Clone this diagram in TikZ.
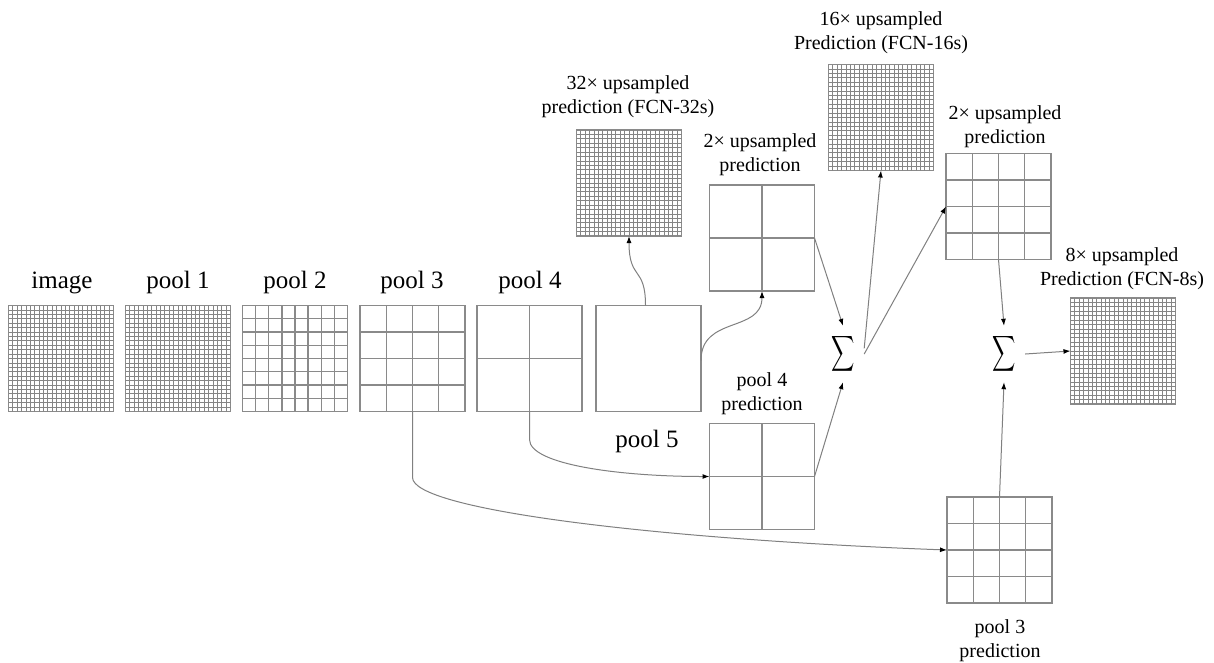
\documentclass[tikz,border=0pt]{standalone}
\usepackage{fontspec}
\usepackage{amsmath}
\setmainfont{Liberation Serif}
\usetikzlibrary{arrows.meta,calc}
\definecolor{gridgray}{HTML}{8A8A8A}
\definecolor{finegray}{HTML}{858585}
\definecolor{conngray}{HTML}{808080}
\tikzset{
 gbox/.style={draw=gridgray, line width=1.3pt, minimum width=105pt, minimum height=106pt, inner sep=0pt, outer sep=0pt},
 gline/.style={draw=gridgray, line width=1.3pt},
 fline/.style={draw=finegray, line width=0.8pt},
 conn/.style={draw=conngray, line width=1pt, -{Latex[length=7pt,width=5pt,color=black]}},
 biglabel/.style={font=\fontsize{25}{28}\selectfont, anchor=base, inner sep=0pt},
 smalllabel/.style={font=\fontsize{20}{24}\selectfont, align=center, anchor=base, inner sep=0pt},
 sigmanode/.style={minimum width=42pt, minimum height=56pt, inner sep=0pt, font=\fontsize{24}{24}\selectfont},
}
% name, cx, cy, n, n-1, line style
\newcommand{\featmap}[6]{%
  \node[gbox] (#1) at (#2,#3) {};
  \foreach \k in {1,...,#5} {
    \draw[#6] ($(#1.south west)!{\k/#4}!(#1.south east)$) -- ($(#1.north west)!{\k/#4}!(#1.north east)$);
    \draw[#6] ($(#1.south west)!{\k/#4}!(#1.north west)$) -- ($(#1.south east)!{\k/#4}!(#1.north east)$);
  }
}
\begin{document}
\begin{tikzpicture}[x=1pt,y=-1pt]
\useasboundingbox[fill=white] (0,0) rectangle (1214,662);

% feature maps
\featmap{img}{61}{358.5}{24}{23}{fline}
\featmap{p1}{178}{358.5}{24}{23}{fline}
\featmap{p2}{295}{358.5}{8}{7}{gline}
\featmap{p3}{412.5}{358.5}{4}{3}{gline}
\featmap{p4}{529.5}{358.5}{2}{1}{gline}
\node[gbox] (p5) at (648.5,358.5) {};
\featmap{up32}{629}{183}{24}{23}{fline}
\featmap{up2a}{762}{238}{2}{1}{gline}
\featmap{p4pred}{762}{476.5}{2}{1}{gline}
\featmap{up16}{881}{117.5}{24}{23}{fline}
\featmap{up2b}{998.5}{206.5}{4}{3}{gline}
\featmap{p3pred}{999.5}{550}{4}{3}{gline}
\featmap{up8}{1123}{351}{24}{23}{fline}

% sums
\node[sigmanode] (s1) at (843,354) {\scalebox{0.65}[1]{$\displaystyle\sum$}};
\node[sigmanode] (s2) at (1004,354) {\scalebox{0.65}[1]{$\displaystyle\sum$}};

% labels
\node[biglabel] (Limg) at (62,288) {image};
\node[biglabel] (Lp1) at (178,288) {pool 1};
\node[biglabel] (Lp2) at (295,288) {pool 2};
\node[biglabel] (Lp3) at (412,288) {pool 3};
\node[biglabel] (Lp4) at (530,288) {pool 4};
\node[biglabel] (Lp5) at (647,447) {pool 5};
\node[smalllabel] (L32) at (628,113) {32× upsampled\\prediction (FCN-32s)};
\node[smalllabel] (L2a) at (760,171) {2× upsampled\\prediction};
\node[smalllabel] (L16) at (881,49) {16× upsampled\\Prediction (FCN-16s)};
\node[smalllabel] (L2b) at (1005,143) {2× upsampled\\prediction};
\node[smalllabel] (L8) at (1122,285) {8× upsampled\\Prediction (FCN-8s)};
\node[smalllabel] (Lp4p) at (762,410) {pool 4\\prediction};
\node[smalllabel] (Lp3p) at (1000,657) {pool 3\\prediction};

% connectors
\draw[conn] ($(p5.north)+(-3,0)$) .. controls +(0,-40) and +(0,45) .. (up32.south);
\draw[conn] ($(p5.east)+(0,2)$) .. controls +(0,-45) and +(0,42) .. (up2a.south);
\draw[conn] (up2a.east) -- (s1.north);
\draw[conn] (p4pred.east) -- (s1.south);
\draw[conn] (s1.15) -- (up16.south);
\draw[conn] (s1.east) -- (up2b.west);
\draw[conn] (p4.south) -- ++(0,28) .. controls +(0,25) and +(-90,0) .. (p4pred.west);
\draw[conn] (p3.south) -- ++(0,66) .. controls +(0,32) and +(-295,-11) .. (p3pred.west);
\draw[conn] (up2b.south) -- (s2.north);
\draw[conn] (p3pred.north) -- (s2.south);
\draw[conn] (s2.east) -- (up8.west);
\end{tikzpicture}
\end{document}
